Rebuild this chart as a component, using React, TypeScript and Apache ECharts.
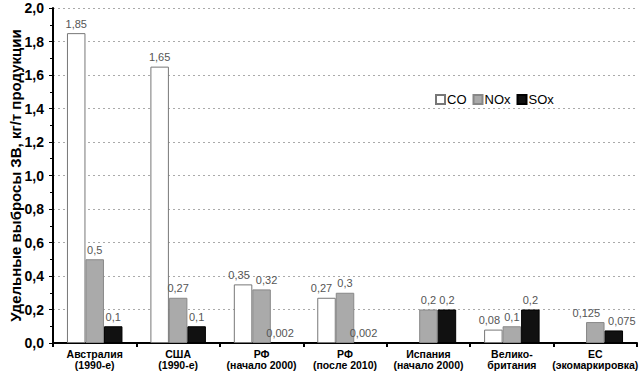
import React, { useEffect, useRef } from "react";
import * as echarts from "echarts";

const categories = [
  "Австралия\n(1990-е)",
  "США\n(1990-е)",
  "РФ\n(начало 2000)",
  "РФ\n(после 2010)",
  "Испания\n(начало 2000)",
  "Велико-\nбритания",
  "ЕС\n(экомаркировка)",
];
const coValues = [1.85, 1.65, 0.35, 0.27, null, 0.08, null];
const noxValues = [0.5, 0.27, 0.32, 0.3, 0.2, 0.1, 0.125];
const soxValues = [0.1, 0.1, 0.002, 0.002, 0.2, 0.2, 0.075];

// horizontal nudges of value labels (px), to keep neighbouring labels apart as in the reference
const coLabelShift = [0, 0, -4, -5, 0, -4, 0];
const noxLabelShift = [0, 0, 5, 0, 0, 0, -9];
const soxLabelShift = [0, 0, 0, 0, 0, 0, 8];

const FONT = "Arial, 'Liberation Sans', sans-serif";

const fmt = (v: number) => String(v).replace(".", ",");

const withShift = (values: (number | null)[], shifts: number[]) =>
  values.map((v, i) => ({ value: v, label: { offset: [shifts[i], 0] } }));

export default function App() {
  const ref = useRef<HTMLDivElement>(null);
  useEffect(() => {
    if (!ref.current) return;
    const chart = echarts.init(ref.current, null, { renderer: "svg" });
    const label = {
      show: true,
      position: "top" as const,
      distance: 4,
      color: "#555",
      fontFamily: FONT,
      fontSize: 11,
      formatter: (p: any) => (p.value == null ? "" : fmt(p.value)),
    };
    chart.setOption({
      animation: false,
      backgroundColor: "#fff",
      textStyle: { fontFamily: FONT },
      grid: { left: 53, right: 6, top: 8, bottom: 33, outerBoundsMode: "none", containLabel: false },
      legend: {
        left: 430,
        top: 88,
        itemWidth: 9,
        itemHeight: 9,
        itemGap: 6,
        icon: "rect",
        textStyle: { fontFamily: FONT, fontSize: 13, color: "#000", padding: [0, 0, 0, -3] },
        data: ["CO", "NOx", "SOx"],
      },
      xAxis: {
        type: "category",
        data: categories,
        axisLine: { lineStyle: { color: "#000", width: 2 } },
        axisTick: { show: true, length: 4, lineStyle: { color: "#000", width: 2 } },
        axisLabel: {
          color: "#000",
          fontFamily: FONT,
          fontSize: 10.5,
          fontWeight: "bold",
          lineHeight: 11,
          margin: 5,
          interval: 0,
        },
      },
      yAxis: {
        type: "value",
        min: 0,
        max: 2,
        interval: 0.2,
        name: "Удельные выбросы ЗВ, кг/т продукции",
        nameLocation: "middle",
        nameGap: 30,
        nameMoveOverlap: false,
        nameTextStyle: { fontFamily: FONT, fontSize: 15, fontWeight: "bold", color: "#000" },
        axisLine: { show: true, lineStyle: { color: "#000", width: 2 } },
        axisTick: { show: true, length: 4, lineStyle: { color: "#000", width: 1 } },
        minorTick: { show: true, splitNumber: 2, length: 3, lineStyle: { color: "#000" } },
        axisLabel: {
          color: "#000",
          fontFamily: FONT,
          fontSize: 14,
          fontWeight: "bold",
          margin: 9,
          formatter: (v: number) => v.toFixed(1).replace(".", ","),
        },
        splitLine: { lineStyle: { color: "#aaa", type: [2, 3], width: 1 } },
      },
      series: [
        {
          name: "CO",
          type: "bar",
          data: withShift(coValues, coLabelShift),
          barWidth: 18.5,
          barGap: "0%",
          itemStyle: { color: "#fff", borderColor: "#777", borderWidth: 1 },
          label,
        },
        {
          name: "NOx",
          type: "bar",
          data: withShift(noxValues, noxLabelShift),
          barWidth: 18.5,
          barGap: "0%",
          itemStyle: { color: "#aaa", borderColor: "#888", borderWidth: 1 },
          label,
        },
        {
          name: "SOx",
          type: "bar",
          data: withShift(soxValues, soxLabelShift),
          barWidth: 18.5,
          barGap: "0%",
          itemStyle: { color: "#111", borderColor: "#000", borderWidth: 1 },
          label,
        },
      ],
    });
    return () => chart.dispose();
  }, []);
  return <div ref={ref} style={{ width: 643, height: 376, position: "absolute", left: 0, top: 0 }} />;
}
